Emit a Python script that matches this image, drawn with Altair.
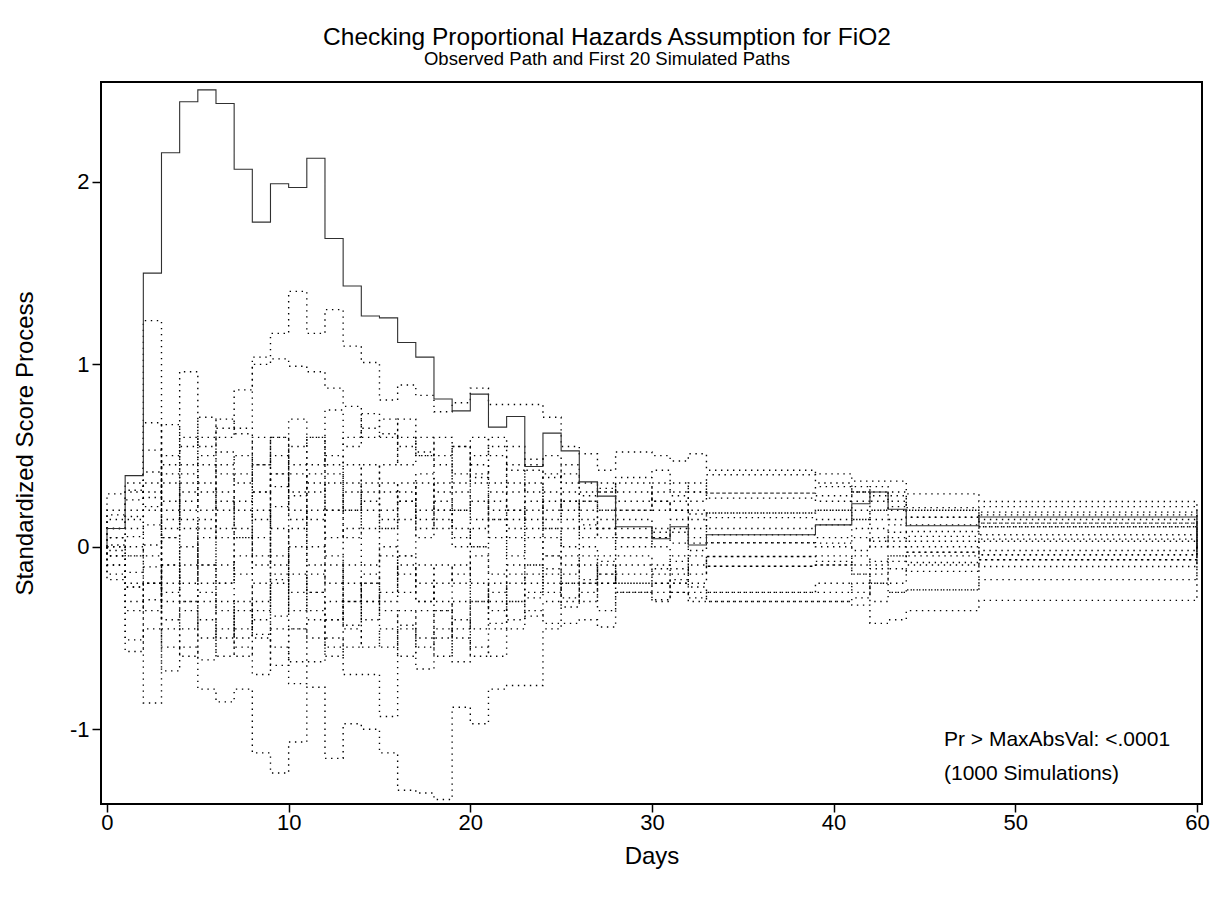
import altair as alt
import pandas as pd

# ---------------- data ----------------
days = [0, 1, 2, 3, 4, 5, 6, 7, 8, 9,
        10, 11, 12, 13, 14, 15, 16, 17, 18, 19,
        20, 21, 22, 23, 24, 25, 26, 27, 28, 30,
        31, 32, 33, 39, 41, 42, 43, 44, 48]
end_day = 60

observed = [0.10, 0.39, 1.50, 2.16, 2.44, 2.505, 2.43, 2.07, 1.78, 1.99,
            1.97, 2.13, 1.69, 1.43, 1.265, 1.255, 1.12, 1.04, 0.81, 0.745,
            0.837, 0.656, 0.714, 0.44, 0.623, 0.526, 0.356, 0.278, 0.11, 0.044,
            0.11, 0.01, 0.066, 0.12, 0.236, 0.30, 0.206, 0.115, 0.163]

sim01 = [0.05, 0.20, 0.30, 0.45, 0.55, 0.60, 0.65, 0.86, 1.04, 1.17,
         1.40, 1.17, 1.30, 1.10, 1.01, 0.805, 0.887, 0.83, 0.74, 0.79,
         0.87, 0.78, 0.78, 0.78, 0.71, 0.55, 0.51, 0.42, 0.52, 0.50,
         0.47, 0.51, 0.42, 0.40, 0.36, 0.36, 0.36, 0.29, 0.248]
sim02 = [-0.15, -0.51, -0.45, -0.68, -0.55, -0.78, -0.85, -0.78, -1.13, -1.24,
         -1.07, -0.77, -1.16, -0.97, -1.00, -1.13, -1.335, -1.35, -1.385, -0.88,
         -0.97, -0.78, -0.76, -0.76, -0.45, -0.42, -0.40, -0.44, -0.25, -0.29,
         -0.25, -0.30, -0.30, -0.30, -0.32, -0.42, -0.40, -0.35, -0.294]
sim03 = [0.20, 0.30, 1.24, 0.10, 0.30, 0.20, 0.45, 0.50, 0.30, 0.40,
         0.55, 0.60, 0.45, 0.60, 0.65, 0.70, 0.60, 0.50, 0.45, 0.40,
         0.60, 0.50, 0.42, 0.48, 0.38, 0.45, 0.30, 0.35, 0.25, 0.30,
         0.28, 0.25, 0.294, 0.33, 0.30, 0.25, 0.30, 0.215, 0.22]
sim04 = [-0.05, -0.20, -0.856, 0.25, 0.10, -0.10, -0.20, -0.05, -0.35, -0.15,
         0.00, -0.25, -0.10, -0.30, -0.20, -0.05, -0.15, -0.30, -0.20, -0.10,
         -0.30, -0.25, -0.10, -0.20, -0.05, -0.15, -0.10, -0.20, -0.10, -0.15,
         -0.20, -0.10, -0.107, -0.10, -0.15, -0.20, -0.12, -0.135, -0.108]
sim05 = [0.10, 0.15, 0.35, 0.50, 0.96, 0.55, 0.70, 0.62, 0.45, 0.60,
         0.45, 0.30, 0.50, 0.35, 0.20, 0.35, 0.25, 0.10, 0.20, 0.30,
         0.15, 0.25, 0.10, 0.20, 0.30, 0.20, 0.25, 0.15, 0.20, 0.25,
         0.20, 0.18, 0.185, 0.20, 0.25, 0.20, 0.22, 0.162, 0.175]
sim06 = [0.00, 0.10, 0.20, 0.05, 0.35, 0.50, 0.60, 0.65, 1.00, 1.03,
         0.99, 0.96, 0.87, 0.77, 0.60, 0.62, 0.55, 0.60, 0.50, 0.55,
         0.45, 0.35, 0.45, 0.30, 0.40, 0.35, 0.28, 0.32, 0.20, 0.35,
         0.30, 0.35, 0.267, 0.25, 0.30, 0.28, 0.25, 0.12, 0.19]
sim07 = [-0.10, -0.30, -0.20, -0.40, -0.30, -0.50, -0.45, -0.60, -0.40, -0.55,
         -0.63, -0.63, -0.50, -0.70, -0.70, -0.93, -0.45, -0.55, -0.35, -0.50,
         -0.60, -0.45, -0.30, -0.38, -0.30, -0.33, -0.20, -0.10, -0.20, -0.25,
         -0.18, -0.22, -0.25, -0.25, -0.20, -0.30, -0.25, -0.236, -0.18]
sim08 = [0.01, -0.05, 0.12, -0.30, -0.10, 0.15, -0.20, 0.05, 0.30, 0.10,
         -0.25, 0.20, -0.05, -0.43, -0.20, -0.35, -0.43, -0.67, -0.45, -0.63,
         -0.30, -0.42, -0.20, -0.10, -0.25, -0.05, -0.18, -0.08, -0.20, -0.12,
         -0.05, -0.15, -0.053, -0.05, -0.10, -0.08, -0.05, -0.086, -0.071]
sim09 = [0.29, 0.31, 0.68, 0.40, 0.60, 0.30, 0.52, 0.35, 0.60, 0.33,
         0.70, 0.45, 0.75, 0.55, 0.73, 0.60, 0.45, 0.52, 0.30, 0.55,
         0.38, 0.55, 0.30, 0.42, 0.20, 0.40, 0.35, 0.30, 0.38, 0.42,
         0.35, 0.30, 0.395, 0.35, 0.30, 0.33, 0.28, 0.20, 0.13]
sim10 = [0.175, 0.257, 0.53, 0.20, 0.45, 0.71, 0.40, 0.20, -0.10, 0.22,
         0.40, 0.15, 0.35, 0.20, 0.45, 0.30, 0.15, 0.35, 0.10, 0.20,
         0.35, 0.15, 0.20, 0.05, 0.15, 0.25, 0.10, 0.20, 0.05, 0.10,
         0.15, 0.05, 0.16, 0.15, 0.20, 0.15, 0.12, 0.084, 0.13]
sim11 = [0.10, 0.166, 0.41, -0.10, -0.30, -0.10, 0.10, -0.15, 0.05, -0.18,
         0.28, -0.10, 0.20, 0.05, 0.25, 0.15, -0.05, 0.20, 0.25, 0.00,
         0.10, 0.30, 0.20, 0.35, 0.10, 0.25, 0.15, 0.10, 0.15, 0.05,
         0.10, 0.20, 0.10, 0.12, 0.15, 0.10, 0.05, 0.057, 0.11]
sim12 = [0.05, 0.056, 0.22, 0.35, 0.15, -0.20, -0.35, -0.50, -0.20, -0.38,
         -0.15, -0.35, -0.55, -0.20, -0.40, -0.25, -0.10, -0.30, -0.10, -0.20,
         0.00, -0.15, 0.05, -0.10, 0.05, -0.10, 0.00, -0.05, 0.05, 0.00,
         -0.08, 0.02, 0.022, 0.00, 0.05, 0.00, 0.03, -0.03, -0.044]
sim13 = [-0.02, 0.00, -0.20, -0.45, -0.60, -0.40, -0.60, -0.35, -0.48, -0.20,
         -0.45, -0.50, -0.30, -0.45, -0.55, -0.45, -0.60, -0.35, -0.50, -0.30,
         -0.45, -0.20, -0.30, -0.15, -0.20, -0.28, -0.25, -0.15, -0.25, -0.20,
         -0.25, -0.28, -0.25, -0.20, -0.25, -0.15, -0.20, -0.10, -0.044]
sim14 = [-0.05, -0.22, -0.35, 0.05, -0.20, 0.05, 0.25, 0.10, -0.05, 0.40,
         0.15, 0.35, 0.05, 0.30, 0.10, 0.20, 0.35, 0.05, 0.15, 0.05,
         0.25, 0.05, 0.15, 0.25, 0.10, 0.00, 0.12, 0.05, 0.10, 0.08,
         0.02, 0.10, 0.066, 0.05, 0.10, 0.03, 0.08, 0.03, 0.066]
sim15 = [-0.10, -0.35, -0.11, -0.25, 0.00, -0.30, -0.10, -0.45, -0.30, -0.05,
         -0.35, -0.15, -0.40, -0.10, -0.30, 0.00, -0.25, -0.10, -0.30, -0.45,
         -0.20, -0.35, -0.15, -0.28, -0.12, -0.20, -0.05, -0.15, -0.05, -0.10,
         -0.15, -0.05, -0.107, -0.10, -0.05, -0.10, -0.05, -0.05, 0.03]
sim16 = [-0.18, -0.574, -0.29, -0.10, -0.45, -0.25, -0.50, -0.30, -0.50, -0.65,
         -0.45, -0.25, -0.40, -0.30, -0.15, -0.30, -0.05, -0.20, -0.35, -0.15,
         -0.05, -0.30, -0.40, -0.25, -0.15, -0.30, -0.20, -0.35, -0.25, -0.30,
         -0.20, -0.25, -0.30, -0.30, -0.28, -0.20, -0.25, -0.236, -0.071]
sim17 = [0.15, 0.35, 0.27, 0.67, 0.25, 0.45, 0.20, 0.40, 0.15, 0.50,
         0.30, 0.60, 0.40, 0.20, 0.35, 0.45, 0.70, 0.50, 0.60, 0.35,
         0.50, 0.60, 0.55, 0.45, 0.50, 0.30, 0.20, 0.30, 0.35, 0.25,
         0.20, 0.30, 0.294, 0.28, 0.33, 0.30, 0.20, 0.20, 0.15]
sim18 = [0.00, -0.14, 0.01, 0.15, 0.40, 0.10, 0.30, 0.05, 0.20, -0.10,
         0.10, 0.40, 0.20, 0.45, 0.30, 0.10, 0.25, 0.40, 0.20, 0.10,
         0.00, 0.15, -0.05, 0.10, -0.05, 0.10, 0.05, 0.10, 0.00, 0.05,
         0.08, -0.02, 0.022, 0.02, -0.02, 0.05, 0.00, 0.00, 0.042]
sim19 = [-0.05, -0.05, -0.05, -0.20, 0.20, 0.35, 0.05, 0.25, 0.45, 0.60,
         0.20, 0.00, -0.20, 0.10, -0.10, 0.10, 0.30, 0.15, 0.35, 0.20,
         0.40, 0.20, 0.35, 0.15, 0.25, 0.15, 0.25, 0.20, 0.30, 0.20,
         0.25, 0.15, 0.185, 0.20, 0.15, 0.20, 0.15, 0.162, 0.11]
sim20 = [0.05, -0.22, -0.20, -0.55, -0.35, -0.62, -0.30, -0.55, -0.70, -0.45,
         -0.75, -0.40, -0.60, -0.55, -0.30, -0.55, -0.35, -0.50, -0.60, -0.40,
         -0.55, -0.60, -0.45, -0.35, -0.42, -0.20, -0.30, -0.20, -0.15, -0.20,
         -0.12, -0.20, -0.053, -0.08, -0.15, -0.12, -0.08, -0.03, -0.02]

simulated = [sim01, sim02, sim03, sim04, sim05, sim06, sim07, sim08, sim09, sim10,
             sim11, sim12, sim13, sim14, sim15, sim16, sim17, sim18, sim19, sim20]

title_text = "Checking Proportional Hazards Assumption for FiO2"
subtitle_text = "Observed Path and First 20 Simulated Paths"
x_title = "Days"
y_title = "Standardized Score Process"
note_line1 = "Pr > MaxAbsVal: <.0001"
note_line2 = "(1000 Simulations)"
x_ticks = [0, 10, 20, 30, 40, 50, 60]
y_ticks = [-1, 0, 1, 2]

# ---------------- build long tables ----------------
def path_rows(name, values):
    rows = [{"path": name, "idx": 0, "day": 0, "value": 0.0}]
    for i, (d, v) in enumerate(zip(days, values)):
        rows.append({"path": name, "idx": i + 1, "day": d, "value": v})
    rows.append({"path": name, "idx": len(values) + 1, "day": end_day, "value": 0.0})
    return rows

sim_rows = []
for k, vals in enumerate(simulated):
    sim_rows += path_rows(f"sim{k + 1:02d}", vals)
sim_df = pd.DataFrame(sim_rows)
obs_df = pd.DataFrame(path_rows("observed", observed))

FONT = "Liberation Sans"
W, H = 1101, 722
PAD_L, PAD_T = 101, 82

x_scale = alt.Scale(domain=[-0.33, 60.28], nice=False, zero=False)
y_scale = alt.Scale(domain=[-1.41, 2.548], nice=False, zero=False)

x_axis = alt.Axis(values=x_ticks, title=x_title, labelFontSize=22, titleFontSize=24,
                  tickSize=8, labelPadding=0, titlePadding=11, labelFlush=False,
                  labelExpr="toString(datum.value)")
y_axis = alt.Axis(values=y_ticks, title=y_title, labelFontSize=22, titleFontSize=24,
                  tickSize=9, labelPadding=3, titlePadding=32,
                  labelExpr="toString(datum.value)")

sim_layer = alt.Chart(sim_df).mark_line(
    interpolate="step-after", color="black", strokeWidth=1.4,
    strokeDash=[1.4, 4.6], strokeCap="butt"
).encode(
    x=alt.X("day:Q", scale=x_scale, axis=x_axis),
    y=alt.Y("value:Q", scale=y_scale, axis=y_axis),
    detail="path:N",
    order="idx:Q",
)

obs_layer = alt.Chart(obs_df).mark_line(
    interpolate="step-after", color="#303030", strokeWidth=1.1
).encode(
    x=alt.X("day:Q", scale=x_scale),
    y=alt.Y("value:Q", scale=y_scale),
    order="idx:Q",
)


def text_layer(txt, px, py, size, align):
    return alt.Chart(pd.DataFrame({"t": [txt]})).mark_text(
        align=align, baseline="alphabetic", font=FONT, fontSize=size, color="black"
    ).encode(
        x=alt.value(px - PAD_L),
        y=alt.value(py - PAD_T),
        text="t:N",
    )

title_layer = text_layer(title_text, 607, 45, 24.5, "center")
subtitle_layer = text_layer(subtitle_text, 607, 65, 18.5, "center")
note_layer1 = text_layer(note_line1, 944, 746, 21, "left")
note_layer2 = text_layer(note_line2, 944, 780, 21, "left")

chart = alt.layer(
    sim_layer, obs_layer, title_layer, subtitle_layer, note_layer1, note_layer2
).properties(
    width=W, height=H,
    padding={"left": PAD_L, "top": PAD_T, "right": 1217 - PAD_L - W, "bottom": 897 - PAD_T - H},
    autosize=alt.AutoSizeParams(type="none"),
    background="white",
).configure_view(
    stroke="black", strokeWidth=2
).configure_axis(
    grid=False, domain=False, tickColor="black", tickWidth=1.5,
    labelColor="black", titleColor="black", labelFont=FONT, titleFont=FONT,
    titleFontWeight="normal"
)

chart.save("out.html", embed_options={"renderer": "svg", "actions": False})
